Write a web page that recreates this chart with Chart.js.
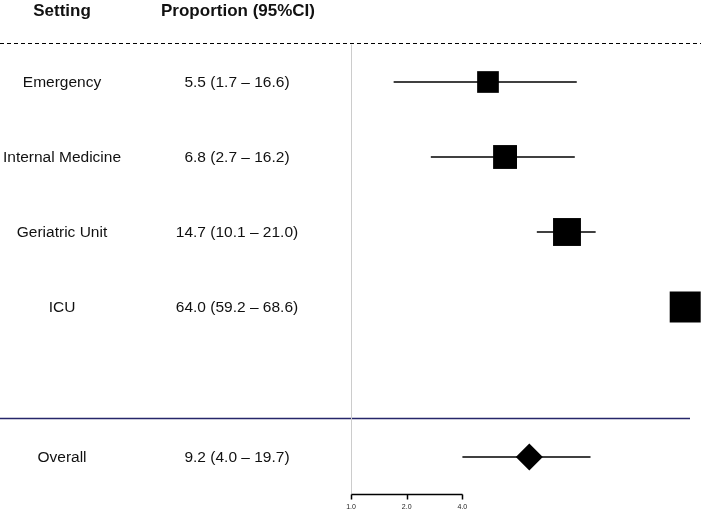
<!DOCTYPE html>
<html>
<head>
<meta charset="utf-8">
<script src="https://cdn.jsdelivr.net/npm/chart.js@4/dist/chart.umd.min.js"></script>
<style>
  html, body { margin: 0; padding: 0; background: #fff; }
  #wrap { width: 701px; height: 514px; }
</style>
</head>
<body>
<div id="wrap"><canvas id="forest" width="701" height="514"></canvas></div>
<script>
// data
const settings = ['Emergency', 'Internal Medicine', 'Geriatric Unit', 'ICU'];
const estimates = [5.5, 6.8, 14.7, 64.0];
const lower = [1.7, 2.7, 10.1, 59.2];
const upper = [16.6, 16.2, 21.0, 68.6];
const weights = [0.70, 0.77, 0.90, 1.0]; // relative box sizes

const overallLabel = 'Overall';
const overallEst = 9.2;
const overallLow = 4.0;
const overallHigh = 19.7;

const axisTicks = [1, 2, 4];
const axisTickLabels = ['1.0', '2.0', '4.0'];

const headers = ['Setting', 'Proportion (95%CI)'];

// row positions (y scale units)
const rowY = settings.map((s, i) => i + 1);
const overallY = 6;

const fmt = (e, l, h) => e.toFixed(1) + ' (' + l.toFixed(1) + ' \u2013 ' + h.toFixed(1) + ')';

// CI line datasets
const ciSets = settings.map((s, i) => ({
    type: 'line',
    data: [{ x: lower[i], y: rowY[i] }, { x: upper[i], y: rowY[i] }],
    borderColor: '#000',
    borderWidth: 1.5,
    pointRadius: 0,
    order: 5
}));
ciSets.push({
    type: 'line',
    data: [{ x: overallLow, y: overallY }, { x: overallHigh, y: overallY }],
    borderColor: '#000',
    borderWidth: 1.5,
    pointRadius: 0,
    order: 5
});

// 文本和参考线
const tablePlugin = {
    id: 'tablePlugin',
    beforeDatasetsDraw(chart) {
        const ctx = chart.ctx;
        const xs = chart.scales.x;
        const ys = chart.scales.y;
        const W = chart.width;
        const x1 = Math.round(xs.getPixelForValue(1)) + 0.5;

        ctx.save();
        // dashed line under header
        const yDash = Math.round(ys.getPixelForValue(0.48)) + 0.5;
        ctx.strokeStyle = '#000';
        ctx.lineWidth = 1;
        ctx.setLineDash([4, 3]);
        ctx.beginPath();
        ctx.moveTo(0, yDash);
        ctx.lineTo(W, yDash);
        ctx.stroke();
        ctx.setLineDash([]);

        // navy separator
        const yNavy = Math.round(ys.getPixelForValue(5.48)) + 0.5;
        ctx.strokeStyle = '#26266a';
        ctx.lineWidth = 1.5;
        ctx.beginPath();
        ctx.moveTo(0, yNavy);
        ctx.lineTo(690, yNavy);
        ctx.stroke();

        // vertical reference line at 1.0
        const yAxis = Math.round(ys.getPixelForValue(6.49)) + 0.5;
        ctx.strokeStyle = '#cccccc';
        ctx.lineWidth = 1;
        ctx.beginPath();
        ctx.moveTo(x1, yDash + 1);
        ctx.lineTo(x1, yAxis);
        ctx.stroke();

        // x axis segment
        const xa = Math.round(xs.getPixelForValue(axisTicks[0])) + 0.5;
        const xb = Math.round(xs.getPixelForValue(axisTicks[axisTicks.length - 1])) + 0.5;
        ctx.strokeStyle = '#000';
        ctx.lineWidth = 1.5;
        ctx.beginPath();
        ctx.moveTo(xa, yAxis);
        ctx.lineTo(xb, yAxis);
        axisTicks.forEach(t => {
            const px = Math.round(xs.getPixelForValue(t)) + 0.5;
            ctx.moveTo(px, yAxis);
            ctx.lineTo(px, yAxis + 5);
        });
        ctx.stroke();

        ctx.fillStyle = '#222';
        ctx.font = '7px "Liberation Sans", Arial, sans-serif';
        ctx.textAlign = 'center';
        ctx.textBaseline = 'middle';
        axisTicks.forEach((t, i) => {
            ctx.fillText(axisTickLabels[i], xs.getPixelForValue(t), ys.getPixelForValue(6.667));
        });

        // header
        ctx.fillStyle = '#111';
        ctx.font = 'bold 17px "Liberation Sans", Arial, sans-serif';
        const yHead = ys.getPixelForValue(0.04) + 1;
        ctx.fillText(headers[0], 62, yHead);
        ctx.fillText(headers[1], 238, yHead);

        // rows
        ctx.font = '15.5px "Liberation Sans", Arial, sans-serif';
        settings.forEach((s, i) => {
            const py = ys.getPixelForValue(rowY[i]) + 1;
            ctx.fillText(s, 62, py);
            ctx.fillText(fmt(estimates[i], lower[i], upper[i]), 237, py);
        });
        const po = ys.getPixelForValue(overallY) + 1;
        ctx.fillText(overallLabel, 62, po);
        ctx.fillText(fmt(overallEst, overallLow, overallHigh), 237, po);
        ctx.restore();
    }
};

// log scale: ~55.7 px per doubling, 1.0 at x = 351
const pxPerDecade = 55.7 / Math.log10(2);
const xMin = Math.pow(10, -351 / pxPerDecade);
const xMax = Math.pow(10, (701 - 351) / pxPerDecade);
// y: 75 px per row, row 1 at y = 82
const yMin = 1 - 82 / 75;
const yMax = yMin + 514 / 75;

new Chart(document.getElementById('forest').getContext('2d'), {
    type: 'scatter',
    data: {
        datasets: [
            {
                data: estimates.map((e, i) => ({ x: e, y: rowY[i] })),
                pointStyle: 'rect',
                pointRadius: weights.map(w => 31 * w / Math.SQRT2),
                backgroundColor: '#000',
                borderColor: '#000',
                borderWidth: 0,
                order: 1,
                clip: false
            },
            {
                data: [{ x: overallEst, y: overallY }],
                pointStyle: 'rectRot',
                pointRadius: 13.5,
                backgroundColor: '#000',
                borderColor: '#000',
                borderWidth: 0,
                order: 1
            },
            ...ciSets
        ]
    },
    options: {
        responsive: false,
        animation: false,
        layout: { padding: 0, autoPadding: false },
        plugins: {
            legend: { display: false },
            tooltip: { enabled: false }
        },
        scales: {
            x: { type: 'logarithmic', min: xMin, max: xMax, bounds: 'data', display: false },
            y: { type: 'linear', min: yMin, max: yMax, reverse: true, bounds: 'data', display: false }
        }
    },
    plugins: [tablePlugin]
});
</script>
</body>
</html>
